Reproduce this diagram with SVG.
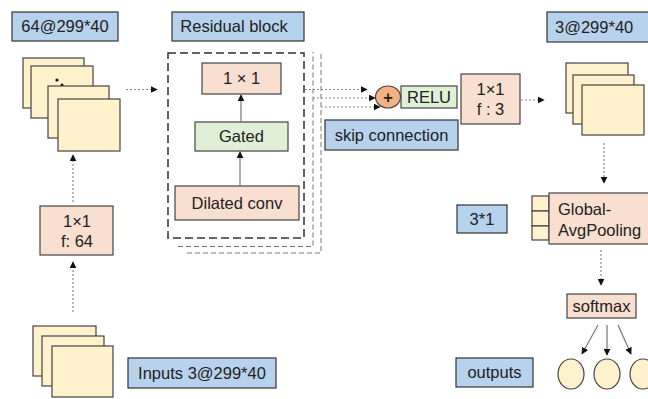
<svg xmlns="http://www.w3.org/2000/svg" width="648" height="399" viewBox="0 0 648 399">
<defs>
<style>
text{font-family:"Liberation Sans",Arial,sans-serif;fill:#222;font-size:16.5px}
.lbl{fill:#b7d2ec;stroke:#333;stroke-width:1.2}
.peach{fill:#f9dfcf;stroke:#444;stroke-width:1.2}
.green{fill:#dff0d6;stroke:#444;stroke-width:1.2}
.sheet{fill:#fff2cc;stroke:#444;stroke-width:1.2}
.dot{fill:none;stroke:#8a8a8a;stroke-width:1.2;stroke-dasharray:2 2}
.dash{fill:none;stroke:#777;stroke-width:1;stroke-dasharray:5 3}
.solid{fill:none;stroke:#777;stroke-width:1.2}
</style>
<marker id="ah" viewBox="0 0 10 10" refX="9" refY="5" markerWidth="7" markerHeight="7" markerUnits="userSpaceOnUse" orient="auto">
<path d="M0,0 L10,5 L0,10 Z" fill="#111"/>
</marker>
</defs>
<rect width="648" height="399" fill="#fff"/>

<g id="label-64">
<rect class="lbl" x="12" y="12" width="106" height="29"/>
<text x="65" y="32" text-anchor="middle">64@299*40</text>
</g>
<g id="stack-64">
<rect class="sheet" x="23" y="58" width="61" height="50"/>
<rect class="sheet" x="31" y="66" width="62" height="52"/>
<circle cx="57" cy="80" r="1.6" fill="#111"/>
<circle cx="62" cy="85" r="1.6" fill="#111"/>
<rect class="sheet" x="48" y="86" width="61" height="52"/>
<rect class="sheet" x="58" y="99" width="62" height="52"/>
</g>
<g id="conv-1x1-64">
<rect class="peach" x="40" y="206" width="73" height="49"/>
<text x="77" y="227" text-anchor="middle">1×1</text>
<text x="77" y="247" text-anchor="middle">f: 64</text>
</g>
<g id="stack-inputs">
<rect class="sheet" x="33" y="326" width="63" height="50"/>
<rect class="sheet" x="42" y="336" width="62" height="50"/>
<rect class="sheet" x="52" y="346" width="61" height="51"/>
</g>
<g id="label-inputs">
<rect class="lbl" x="128" y="358" width="148" height="30"/>
<text x="202" y="379" text-anchor="middle">Inputs 3@299*40</text>
</g>

<g id="label-residual">
<rect class="lbl" x="172" y="12" width="132" height="29"/>
<text x="234" y="32" text-anchor="middle">Residual block</text>
</g>
<g id="residual-block">
<rect x="168" y="53" width="136" height="185" fill="none" stroke="#333" stroke-width="1.5" stroke-dasharray="8 4"/>
<path class="dash" d="M178,246.5 H313 V52"/>
<path class="dash" d="M187,253 H321 V52"/>
</g>
<g id="conv-1x1">
<rect class="peach" x="202" y="63" width="79" height="31"/>
<text x="241.5" y="84" text-anchor="middle">1 × 1</text>
</g>
<g id="gated">
<rect class="green" x="195" y="122" width="93" height="29"/>
<text x="241.5" y="142" text-anchor="middle">Gated</text>
</g>
<g id="dilated">
<rect class="peach" x="175" y="186" width="124" height="34"/>
<text x="237" y="209" text-anchor="middle">Dilated conv</text>
</g>

<g id="add">
<ellipse cx="388" cy="97" rx="12.5" ry="11" fill="#f4b183" stroke="#444" stroke-width="1.2"/>
<text x="388" y="102.5" text-anchor="middle" font-size="15" font-weight="bold">+</text>
</g>
<g id="relu">
<rect class="green" x="401" y="86" width="56" height="22"/>
<text x="429" y="103" text-anchor="middle">RELU</text>
</g>
<g id="label-skip">
<rect class="lbl" x="325" y="120" width="133" height="30"/>
<text x="391.5" y="141" text-anchor="middle">skip connection</text>
</g>
<g id="conv-1x1-3">
<rect class="peach" x="461" y="74" width="59" height="50"/>
<text x="490.5" y="95" text-anchor="middle">1×1</text>
<text x="490.5" y="115" text-anchor="middle">f : 3</text>
</g>

<g id="label-3">
<rect class="lbl" x="547" y="12" width="102" height="30"/>
<text x="555" y="33">3@299*40</text>
</g>
<g id="stack-3">
<rect class="sheet" x="566" y="63" width="62" height="50"/>
<rect class="sheet" x="573" y="75" width="61" height="49"/>
<rect class="sheet" x="582" y="85" width="62" height="50"/>
</g>
<g id="label-31">
<rect class="lbl" x="457" y="205" width="50" height="28"/>
<text x="482" y="225" text-anchor="middle">3*1</text>
</g>
<g id="gap">
<rect class="sheet" x="532" y="196" width="17" height="15"/>
<rect class="sheet" x="532" y="211" width="17" height="15"/>
<rect class="sheet" x="532" y="226" width="17" height="14"/>
<rect class="peach" x="549" y="193" width="101" height="51"/>
<text x="558" y="215">Global-</text>
<text x="558" y="236">AvgPooling</text>
</g>
<g id="softmax">
<rect class="peach" x="567" y="294" width="69" height="24"/>
<text x="601.5" y="312" text-anchor="middle">softmax</text>
</g>
<g id="label-outputs">
<rect class="lbl" x="456" y="358" width="77" height="29"/>
<text x="494.5" y="378" text-anchor="middle">outputs</text>
</g>
<g id="out1"><ellipse class="sheet" cx="571" cy="374" rx="13" ry="15"/></g>
<g id="out2"><ellipse class="sheet" cx="607" cy="374" rx="13" ry="15"/></g>
<g id="out3"><ellipse class="sheet" cx="643" cy="374" rx="13" ry="15"/></g>

<g id="connectors">
<path class="dot" d="M126,89.5 H157" marker-end="url(#ah)"/>
<path class="dot" d="M73,202 V155" marker-end="url(#ah)"/>
<path class="dot" d="M73,312 V262" marker-end="url(#ah)"/>
<path class="solid" d="M240,186 V152" marker-end="url(#ah)"/>
<path class="solid" d="M241,122 V95" marker-end="url(#ah)"/>
<path class="dot" d="M305,89.5 H367" marker-end="url(#ah)"/>
<path class="dot" d="M313,98 H375" marker-end="url(#ah)"/>
<path class="dot" d="M321,107 H380" marker-end="url(#ah)"/>
<path class="dot" d="M521,100 H544" marker-end="url(#ah)"/>
<path class="dot" d="M604,143 V183" marker-end="url(#ah)"/>
<path class="dot" d="M601,250 V285" marker-end="url(#ah)"/>
<path class="solid" d="M598,325 L582,354" marker-end="url(#ah)"/>
<path class="solid" d="M607,325 V355" marker-end="url(#ah)"/>
<path class="solid" d="M618,325 L631,354" marker-end="url(#ah)"/>
</g>
</svg>
